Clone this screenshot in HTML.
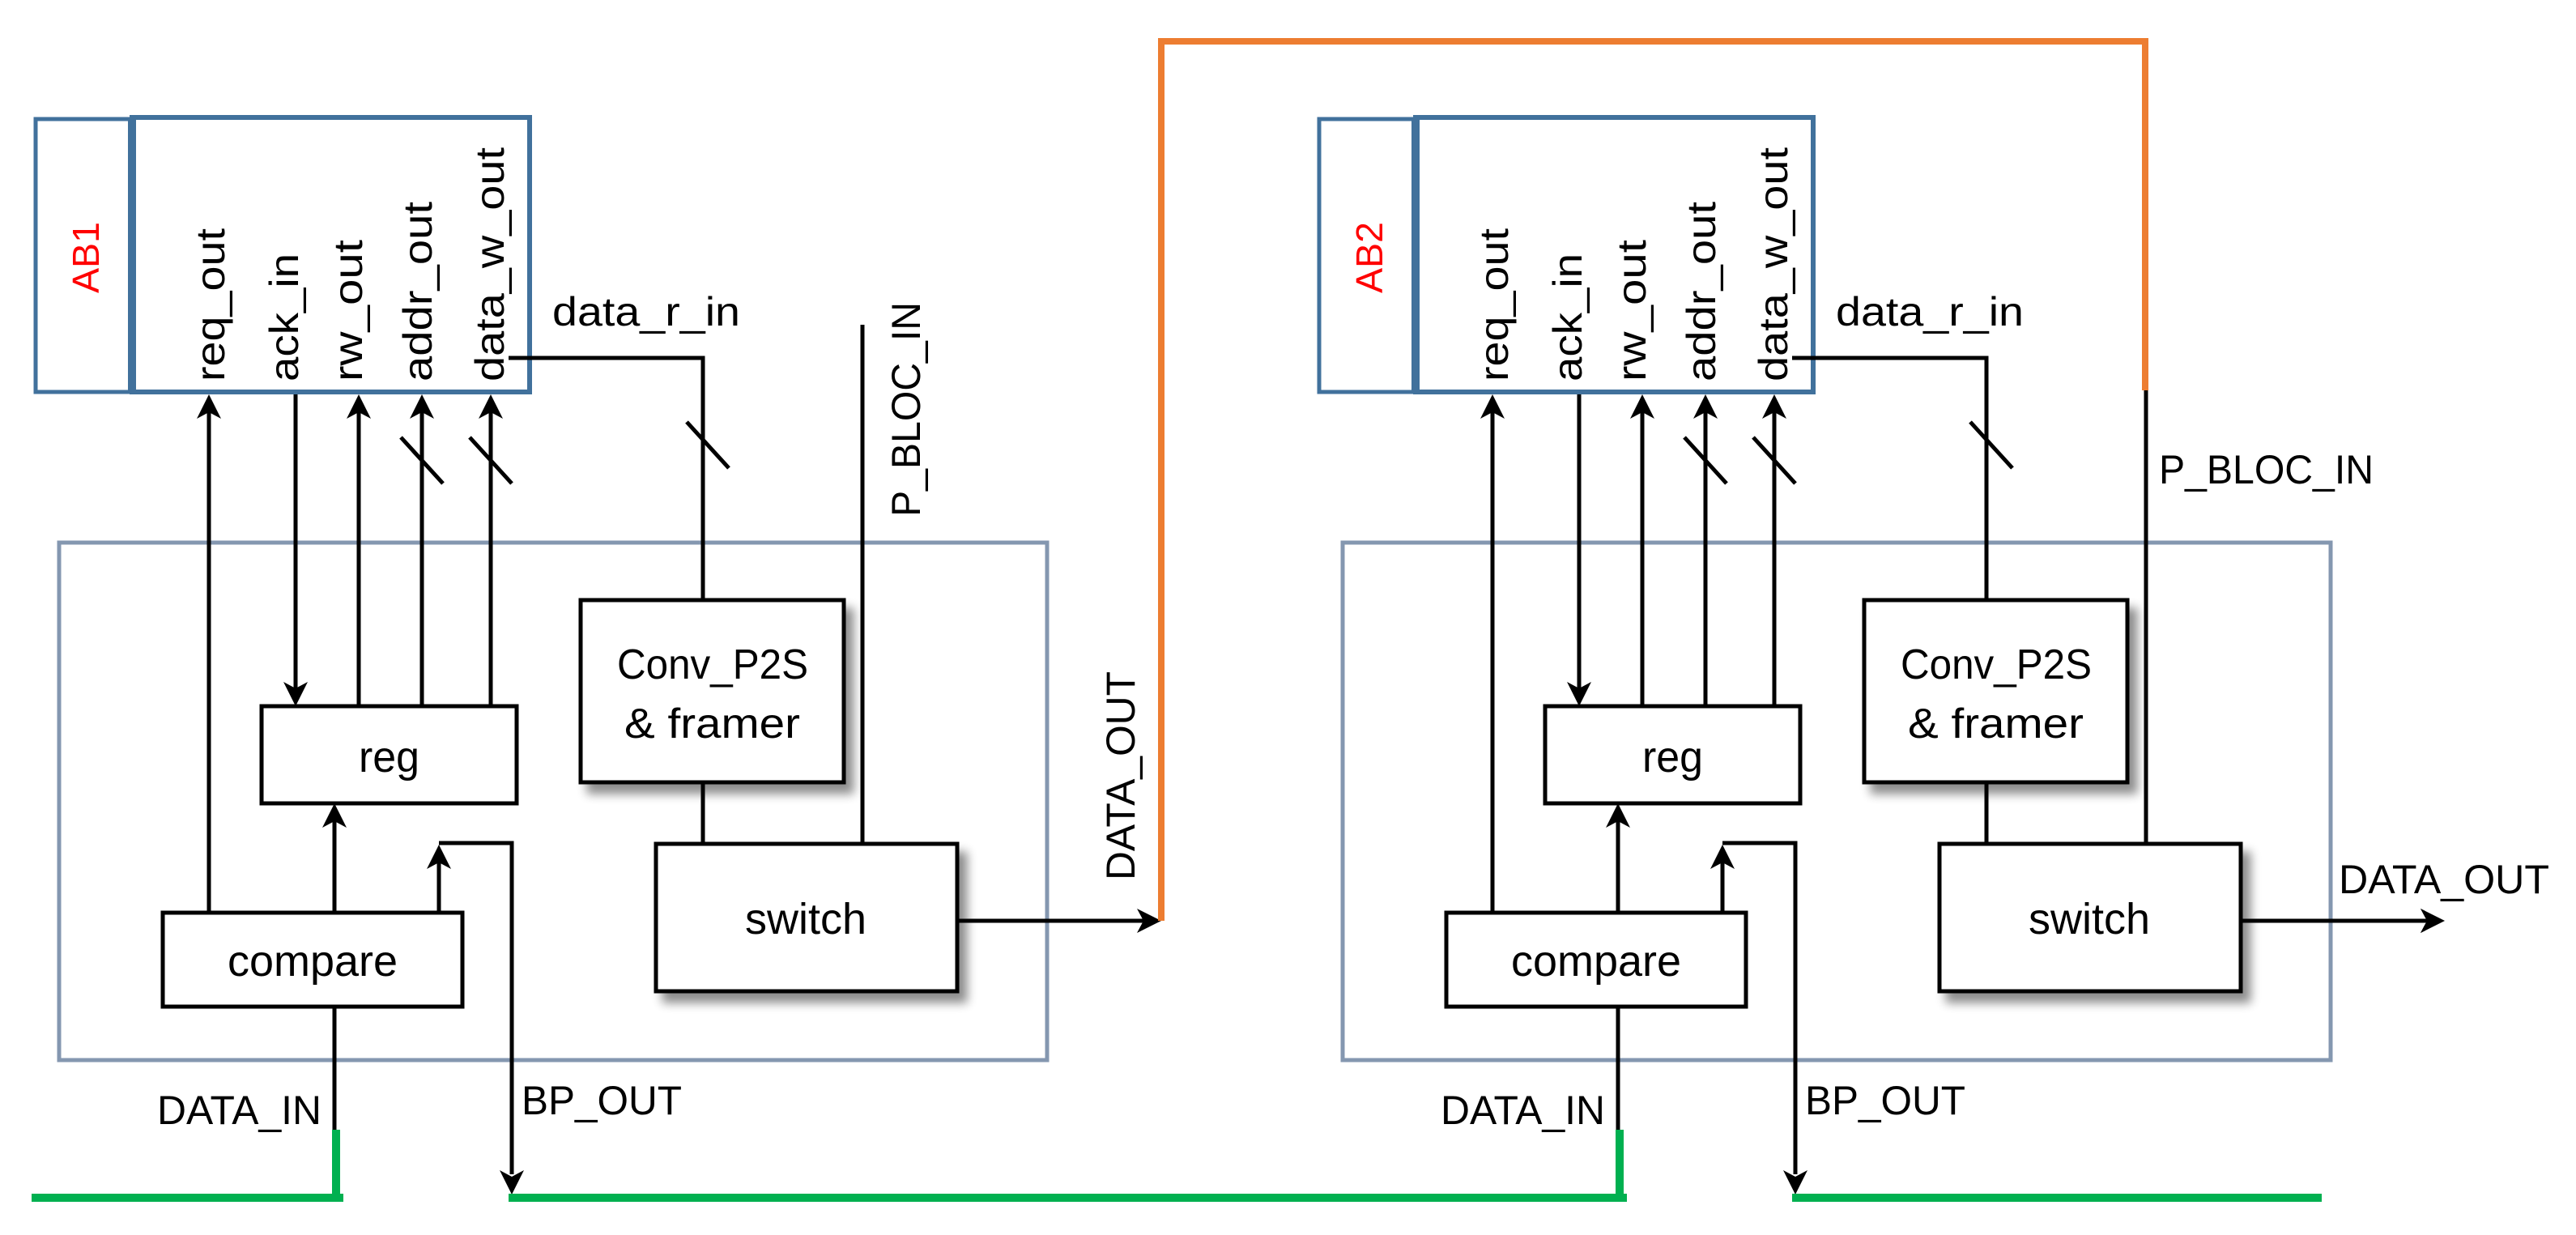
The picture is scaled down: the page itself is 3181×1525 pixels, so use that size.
<!DOCTYPE html>
<html><head><meta charset="utf-8"><style>
html,body{margin:0;padding:0;background:#fff;}
svg{display:block;}
text{font-family:"Liberation Sans",sans-serif;fill:#000;}
</style></head><body>
<svg width="3181" height="1525" viewBox="0 0 3181 1525" xmlns="http://www.w3.org/2000/svg">
<defs>
<filter id="sh" x="-10%" y="-10%" width="130%" height="130%">
<feGaussianBlur in="SourceAlpha" stdDeviation="6"/>
<feOffset dx="10" dy="12" result="o"/>
<feComponentTransfer><feFuncA type="linear" slope="0.45"/></feComponentTransfer>
<feMerge><feMergeNode/><feMergeNode in="SourceGraphic"/></feMerge>
</filter>
<g id="up"><polygon points="0,0 -15,30 0,22 15,30" fill="#000"/></g>
<g id="dn"><polygon points="0,0 -15,-30 0,-22 15,-30" fill="#000"/></g>
<g id="blk">
  <rect x="44" y="147" width="117" height="337" fill="#fff" stroke="#41719C" stroke-width="5"/>
  <rect x="163" y="145" width="491" height="339" fill="#fff" stroke="#41719C" stroke-width="6"/>
  <line x1="163" y1="145" x2="163" y2="484" stroke="#41719C" stroke-width="10"/>
  <text transform="translate(277,471) rotate(-90)" font-size="50" textLength="189" lengthAdjust="spacingAndGlyphs">req_out</text>
  <text transform="translate(368,471) rotate(-90)" font-size="50" textLength="158" lengthAdjust="spacingAndGlyphs">ack_in</text>
  <text transform="translate(447,471) rotate(-90)" font-size="50" textLength="175" lengthAdjust="spacingAndGlyphs">rw_out</text>
  <text transform="translate(533,471) rotate(-90)" font-size="50" textLength="222" lengthAdjust="spacingAndGlyphs">addr_out</text>
  <text transform="translate(622,471) rotate(-90)" font-size="50" textLength="289" lengthAdjust="spacingAndGlyphs">data_w_out</text>
  <rect x="73" y="670" width="1220" height="639" fill="none" stroke="#8497B0" stroke-width="5"/>
  <g stroke="#000" stroke-width="5" fill="none">
    <line x1="258" y1="505" x2="258" y2="1126"/>
    <line x1="365" y1="487" x2="365" y2="850"/>
    <line x1="443" y1="505" x2="443" y2="872"/>
    <line x1="521" y1="505" x2="521" y2="872"/>
    <line x1="606" y1="505" x2="606" y2="872"/>
    <line x1="495" y1="540" x2="547" y2="597"/>
    <line x1="580" y1="540" x2="632" y2="597"/>
    <polyline points="628,442 868,442 868,741"/>
    <line x1="848" y1="521" x2="900" y2="578"/>
    <line x1="868" y1="966" x2="868" y2="1042"/>
    <line x1="413" y1="1126" x2="413" y2="1010"/>
    <line x1="542" y1="1126" x2="542" y2="1060"/>
    <polyline points="542,1041 632,1041 632,1450"/>
    <line x1="413" y1="1244" x2="413" y2="1395"/>
  </g>
  <use href="#up" x="258" y="487"/>
  <use href="#up" x="443" y="487"/>
  <use href="#up" x="521" y="487"/>
  <use href="#up" x="606" y="487"/>
  <use href="#dn" x="365" y="872"/>
  <use href="#up" x="413" y="992"/>
  <use href="#up" x="542" y="1043"/>
  <use href="#dn" x="632" y="1475"/>
  <text x="682" y="402" font-size="50" textLength="232" lengthAdjust="spacingAndGlyphs">data_r_in</text>
  <rect x="323" y="872" width="315" height="120" fill="#fff" stroke="#000" stroke-width="5"/>
  <text x="443" y="953" font-size="54" textLength="75" lengthAdjust="spacingAndGlyphs">reg</text>
  <rect x="201" y="1127" width="370" height="116" fill="#fff" stroke="#000" stroke-width="5"/>
  <text x="281" y="1205" font-size="54" textLength="210" lengthAdjust="spacingAndGlyphs">compare</text>
  <rect x="717" y="741" width="325" height="225" fill="#fff" stroke="#000" stroke-width="5" filter="url(#sh)"/>
  <text x="762" y="838" font-size="52" textLength="236" lengthAdjust="spacingAndGlyphs">Conv_P2S</text>
  <text x="771" y="911" font-size="52" textLength="217" lengthAdjust="spacingAndGlyphs">&amp; framer</text>
  <rect x="810" y="1042" width="372" height="182" fill="#fff" stroke="#000" stroke-width="5" filter="url(#sh)"/>
  <text x="920" y="1153" font-size="54" textLength="150" lengthAdjust="spacingAndGlyphs">switch</text>
  <line x1="1065" y1="1042" x2="1065" y2="966" stroke="#000" stroke-width="5"/>
  <line x1="1182" y1="1137" x2="1415" y2="1137" stroke="#000" stroke-width="5"/>
  <polygon points="1434,1137 1404,1122 1412,1137 1404,1152" fill="#000"/>
  <text x="194" y="1388" font-size="50" textLength="203" lengthAdjust="spacingAndGlyphs">DATA_IN</text>
  <text x="644" y="1376" font-size="50" textLength="198" lengthAdjust="spacingAndGlyphs">BP_OUT</text>
  <line x1="415" y1="1395" x2="415" y2="1484" stroke="#00B050" stroke-width="10"/>
</g>
</defs>

<use href="#blk"/>
<use href="#blk" x="1585"/>

<text transform="translate(122,362) rotate(-90)" font-size="46" style="fill:#FF0000" textLength="88" lengthAdjust="spacingAndGlyphs">AB1</text>
<text transform="translate(1707,362) rotate(-90)" font-size="46" style="fill:#FF0000" textLength="88" lengthAdjust="spacingAndGlyphs">AB2</text>

<line x1="1065" y1="401" x2="1065" y2="966" stroke="#000" stroke-width="5"/>
<text transform="translate(1136,638) rotate(-90)" font-size="50" textLength="265" lengthAdjust="spacingAndGlyphs">P_BLOC_IN</text>
<text transform="translate(1401,1087) rotate(-90)" font-size="50" textLength="258" lengthAdjust="spacingAndGlyphs">DATA_OUT</text>
<polyline points="1434,1137 1434,51 2649,51 2649,482" fill="none" stroke="#ED7D31" stroke-width="8"/>

<line x1="2650" y1="482" x2="2650" y2="966" stroke="#000" stroke-width="5"/>
<text x="2666" y="597" font-size="50" textLength="265" lengthAdjust="spacingAndGlyphs">P_BLOC_IN</text>
<text x="2888" y="1103" font-size="50" textLength="260" lengthAdjust="spacingAndGlyphs">DATA_OUT</text>
<rect x="2995" y="1120" width="40" height="40" fill="#fff"/>
<line x1="2767" y1="1137" x2="3000" y2="1137" stroke="#000" stroke-width="5"/>
<polygon points="3019,1137 2989,1122 2997,1137 2989,1152" fill="#000"/>

<g stroke="#00B050" stroke-width="10">
<line x1="39" y1="1479" x2="424" y2="1479"/>
<line x1="628" y1="1479" x2="2009" y2="1479"/>
<line x1="2213" y1="1479" x2="2867" y2="1479"/>
</g>
</svg>
</body></html>
